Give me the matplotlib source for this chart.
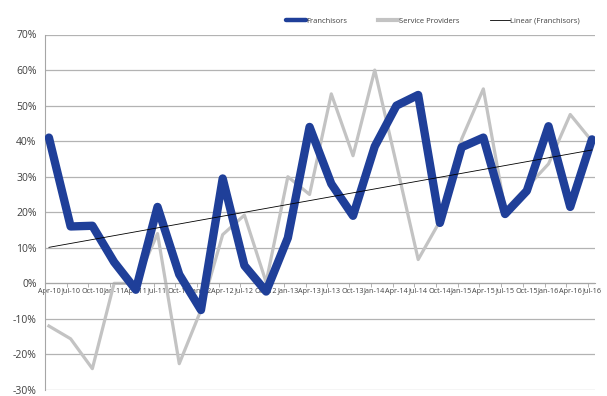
import numpy as np
import matplotlib
matplotlib.use("Agg")
import matplotlib.pyplot as plt

quarters = ['Apr-10', 'Jul-10', 'Oct-10', 'Jan-11', 'Apr-11', 'Jul-11', 'Oct-11', 'Jan-12',
            'Apr-12', 'Jul-12', 'Oct-12', 'Jan-13', 'Apr-13', 'Jul-13', 'Oct-13', 'Jan-14',
            'Apr-14', 'Jul-14', 'Oct-14', 'Jan-15', 'Apr-15', 'Jul-15', 'Oct-15', 'Jan-16',
            'Apr-16', 'Jul-16']
franchisors = [41, 16, 16.2, 6, -1.8, 21.5, 2.5, -7.5, 29.5, 5, -2.3, 12.8, 44, 28, 19,
               38.5, 50, 53, 17, 38.3, 41, 19.5, 26, 44.2, 21.5, 40.5]
service_providers = [-12, -15.6, -24, 0, 0, 14, -22.6, -7.5, 13.7, 19.2, 0.3, 30, 25, 53.3,
                     35.9, 60, 33.5, 6.7, 17.5, 40.6, 54.7, 20.7, 27, 33.6, 47.5, 40]

x = np.arange(len(quarters))
# linear trendline of the franchisors series
trend = np.polyval(np.polyfit(x, franchisors, 1), x)

plt.rcParams['font.family'] = ['Open Sans', 'DejaVu Sans']

fig = plt.figure(figsize=(6.07, 3.96), dpi=100)
ax = fig.add_axes([45 / 607, 6 / 396, 550 / 607, 355.5 / 396])

for v in range(-30, 71, 10):
    ax.axhline(v, color='#b3b3b3', lw=0.9, zorder=0)

ax.plot(x, franchisors, color='#1f3f99', lw=6, solid_joinstyle='round',
        solid_capstyle='round', label='Franchisors', zorder=3)
ax.plot(x, service_providers, color='#c3c3c3', lw=2.3, solid_joinstyle='round',
        label='Service Providers', zorder=2)
ax.plot(x, trend, color='black', lw=0.6, label='Linear (Franchisors)', zorder=4)

ax.set_xlim(-0.18, 25.14)
ax.set_ylim(-30, 70)
ax.set_yticks(range(-30, 71, 10))
ax.set_yticklabels([f'{v}%' for v in range(-30, 71, 10)], fontsize=7.5, color='#404040')
ax.tick_params(axis='y', length=0, pad=6)

ax.spines['bottom'].set_position(('data', 0))
ax.spines['bottom'].set_color('#a6a6a6')
ax.spines['left'].set_color('#a6a6a6')
ax.spines['top'].set_visible(False)
ax.spines['right'].set_visible(False)

ax.set_xticks(x)
ax.set_xticklabels(quarters, fontsize=5.2, color='#404040')
ax.tick_params(axis='x', length=0, pad=3)
ax.set_xticks(np.arange(26) - 0.18, minor=True)
ax.tick_params(axis='x', which='minor', length=3, color='#a6a6a6')

leg = fig.legend(loc='center left', bbox_to_anchor=(286 / 607, 1 - 21 / 396), ncol=3,
                 frameon=False, fontsize=5.5, handlelength=2.6, columnspacing=4.0,
                 handletextpad=0.1, borderpad=0, borderaxespad=0, labelcolor='#404040')
leg.get_lines()[0].set_linewidth(3.2)
leg.get_lines()[1].set_linewidth(3)

fig.savefig('out.png', dpi=100)
